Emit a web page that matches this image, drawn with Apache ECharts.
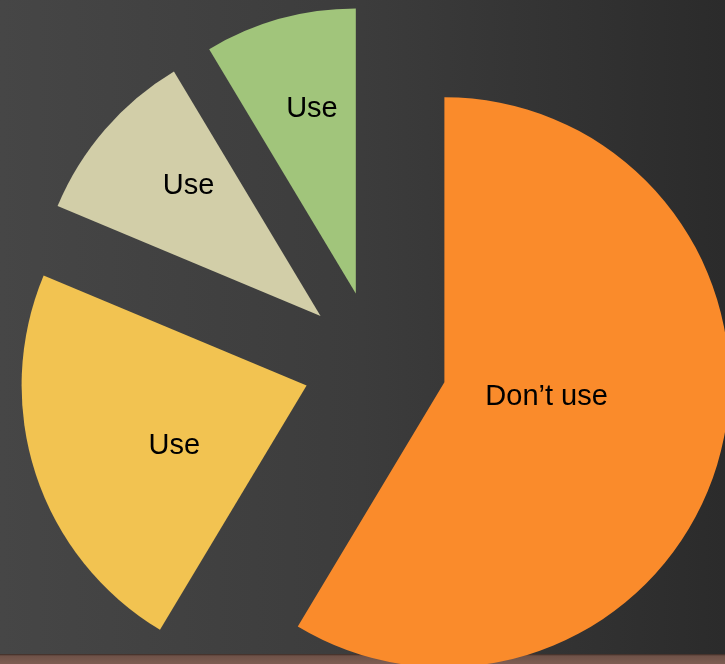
<!DOCTYPE html>
<html>
<head>
<meta charset="utf-8">
<script src="https://cdn.jsdelivr.net/npm/echarts@6/dist/echarts.min.js"></script>
<style>
  html, body { margin: 0; padding: 0; }
  body {
    width: 725px; height: 664px; overflow: hidden;
    background:
      linear-gradient(to bottom, rgba(0,0,0,0) 654px, #3a2a24 654px, #6f5248 656px, #7d5d52 664px),
      linear-gradient(to right, #464646 0%, #3c3c3c 50%, #2b2b2b 100%);
  }
  #chart { width: 725px; height: 664px; }
</style>
</head>
<body>
<div id="chart"></div>
<script>
// slices go clockwise from 12 o'clock
const labels = ['Don\u2019t use', 'Use', 'Use', 'Use']
const values = [58.6, 22.7, 10.1, 8.6]
const colors = ['#FA8B2B', '#F2C351', '#D2CEA8', '#A1C57B']

// nudges from the default inner label spot, to match the slide
const labelNudge = [[-38, -24], [6, 15], [-22, -35], [-5, -44]]

const chart = echarts.init(document.getElementById('chart'))

chart.setOption({
  backgroundColor: 'transparent',
  animation: false,
  series: [{
    type: 'pie',
    center: [375, 363],
    radius: ['0%', 285],
    startAngle: 90,
    clockwise: true,
    selectedMode: 'multiple',
    selectedOffset: 72,
    avoidLabelOverlap: false,
    label: {
      show: true,
      position: 'inner',
      color: '#000',
      fontSize: 29,
      fontFamily: 'Liberation Sans, Arial, sans-serif',
      formatter: '{b}'
    },
    labelLine: { show: false },
    labelLayout: (params) => {
      const n = labelNudge[params.dataIndex]
      return { dx: n[0], dy: n[1] }
    },
    emphasis: { disabled: true },
    select: { itemStyle: { borderWidth: 0 } },
    data: values.map((v, i) => ({
      name: labels[i],
      value: v,
      selected: true,
      itemStyle: { color: colors[i] }
    }))
  }]
})
</script>
</body>
</html>
